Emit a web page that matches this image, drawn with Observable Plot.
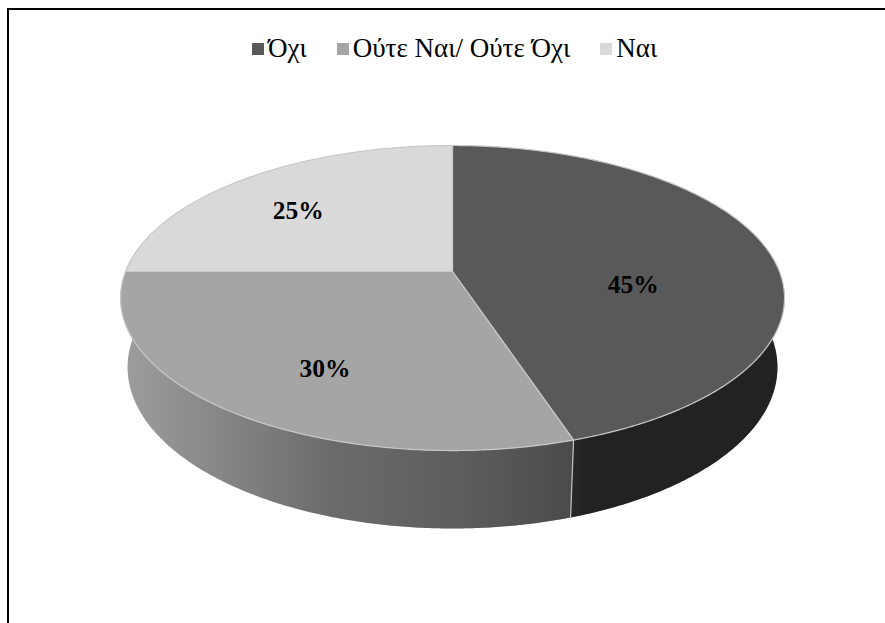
<!DOCTYPE html>
<html>
<head>
<meta charset="utf-8">
<script src="https://cdn.jsdelivr.net/npm/d3@7"></script>
<script src="https://cdn.jsdelivr.net/npm/@observablehq/plot@0.6"></script>
<style>
  html, body { margin: 0; padding: 0; background: #fff; }
  #chart { position: absolute; left: 0; top: 0; }
  #legend { position: absolute; left: 252px; top: 32px; }
  #legend, #legend * {
    font-family: "Liberation Serif", "Times New Roman", serif !important;
    font-size: 27px !important; color: #000 !important;
  }
  #legend > div { margin: 0 !important; min-height: 33px !important; }
  #legend > div > * { margin-right: 30px !important; }
  #legend > div > * > svg { margin-right: 4px !important; }
  #frame { position: absolute; left: 7px; top: 8px; width: 920px; height: 660px;
           border-left: 2px solid #000; border-top: 2px solid #000; }
</style>
</head>
<body>
<div id="chart"></div>
<div id="legend"></div>
<div id="frame"></div>
<script>
// Survey answers and their shares (%)
const categories = ["Όχι", "Ούτε Ναι/ Ούτε Όχι", "Ναι"];
const shares = [45, 30, 25];
const palette = ["#595959", "#a5a5a5", "#d9d9d9"];

const W = 885, H = 623;
const serif = "Liberation Serif, Times New Roman, serif";

// Perspective camera looking down on a flat cylinder (unit radius)
const view = {cx: 452, cy: 271, focal: 1676.6, dist: 5.128, tilt: Math.asin(0.4524), thickness: 0.2395};
function project(theta, r, level) {
  // theta: clockwise from 12 o'clock; level 0 = top face, 1 = bottom face
  const s = Math.sin(view.tilt), c = Math.cos(view.tilt);
  const X = r * Math.sin(theta), Z = r * Math.cos(theta), Y = -level * view.thickness;
  const d = view.dist - Y * s + Z * c;
  return [view.cx + view.focal * X / d, view.cy - view.focal * (Y * c + Z * s) / d];
}
function arcSteps(a, b) {
  const n = Math.max(2, Math.ceil(Math.abs(b - a) / (Math.PI / 360)));
  return d3.range(n + 1).map(k => a + (b - a) * k / n);
}

const arcs = d3.pie().sort(null).value(d => d)(shares);
const FRONT = [Math.PI / 2, 3 * Math.PI / 2]; // near half of the rim
const LABEL_PUSH = 1.15; // labels sit a little outward of each face's centroid

const [pcx, pcy] = project(0, 0, 0);
const topRows = [], sideRows = [], edgeRows = [], labelRows = [];
arcs.forEach((a, i) => {
  // top face
  const top = [[pcx, pcy], ...arcSteps(a.startAngle, a.endAngle).map(t => project(t, 1, 0))];
  top.forEach(([x, y]) => topRows.push({id: "top" + i, cat: categories[i], x, y}));
  const [gx, gy] = d3.polygonCentroid(top);
  labelRows.push({x: pcx + LABEL_PUSH * (gx - pcx), y: pcy + LABEL_PUSH * (gy - pcy), text: shares[i] + "%"});
  // front wall
  const lo = Math.max(a.startAngle, FRONT[0]), hi = Math.min(a.endAngle, FRONT[1]);
  if (lo < hi) {
    const steps = arcSteps(lo, hi);
    const wall = [...steps.map(t => project(t, 1, 0)), ...steps.slice().reverse().map(t => project(t, 1, 1))];
    wall.forEach(([x, y]) => sideRows.push({id: "side" + i, cat: categories[i], x, y}));
  }
  // vertical seam where the slice ends on the visible wall
  if (a.endAngle > FRONT[0] && a.endAngle < FRONT[1]) {
    const [x1, y1] = project(a.endAngle, 1, 0), [x2, y2] = project(a.endAngle, 1, 1);
    edgeRows.push({x1, y1, x2, y2});
  }
});

// Soft shadow under the base
const shadowRows = arcSteps(0, 2 * Math.PI).map(t => {
  const [x, y] = project(t, 1, 1);
  return {x, y};
});

const chart = Plot.plot({
  width: W, height: H,
  margin: 0,
  x: {domain: [0, W], range: [0, W], axis: null},
  y: {domain: [0, H], range: [0, H], axis: null},
  color: {domain: categories, range: palette},
  style: {background: "transparent"},
  marks: [
    Plot.line(shadowRows, {x: "x", y: "y", curve: "linear-closed", fill: "#000", fillOpacity: 0.4, stroke: "none", dx: 2, dy: 5, ariaLabel: "shadow"}),
    Plot.line(sideRows, {x: "x", y: "y", z: "id", fill: "cat", stroke: "none", curve: "linear-closed"}),
    Plot.line(sideRows, {x: "x", y: "y", z: "id", fill: "url(#sideLight)", stroke: "none", curve: "linear-closed"}),
    Plot.link(edgeRows, {x1: "x1", y1: "y1", x2: "x2", y2: "y2", stroke: "#c4c4c4", strokeWidth: 1.2}),
    Plot.line(topRows, {x: "x", y: "y", z: "id", fill: "cat", stroke: "#c8c8c8", strokeWidth: 1.2, curve: "linear-closed"}),
    Plot.text(labelRows, {x: "x", y: "y", text: "text", fontFamily: serif, fontWeight: "bold", fontSize: 25.5, fill: "#000"})
  ]
});

// Lighting across the front wall: darker towards the right
const shade = [[100, 0.62], [160, 0.62], [163, 0.54], [180, 0.43], [198, 0.35], [222, 0.16], [250, 0.05], [262, 0.04]];
const xL = project(262 * Math.PI / 180, 1, 0)[0], xR = project(100 * Math.PI / 180, 1, 0)[0];
const svgSel = d3.select(chart);
const defs = svgSel.insert("defs", ":first-child");
const grad = defs.append("linearGradient").attr("id", "sideLight")
  .attr("gradientUnits", "userSpaceOnUse").attr("x1", xL).attr("x2", xR).attr("y1", 0).attr("y2", 0);
shade.map(([deg, o]) => [(project(deg * Math.PI / 180, 1, 0)[0] - xL) / (xR - xL), o])
  .sort((a, b) => a[0] - b[0])
  .forEach(([off, o]) => grad.append("stop").attr("offset", off).attr("stop-color", "#000").attr("stop-opacity", o));
defs.append("filter").attr("id", "soft").attr("x", "-10%").attr("y", "-10%").attr("width", "120%").attr("height", "130%")
  .append("feGaussianBlur").attr("stdDeviation", 4);
svgSel.select('g[aria-label="shadow"]').attr("filter", "url(#soft)");

document.getElementById("chart").append(chart);

const legend = chart.legend("color", {swatchSize: 12, style: "font-family: Liberation Serif, Times New Roman, serif; font-size: 27px; color: #000;"});
document.getElementById("legend").append(legend);
</script>
</body>
</html>
